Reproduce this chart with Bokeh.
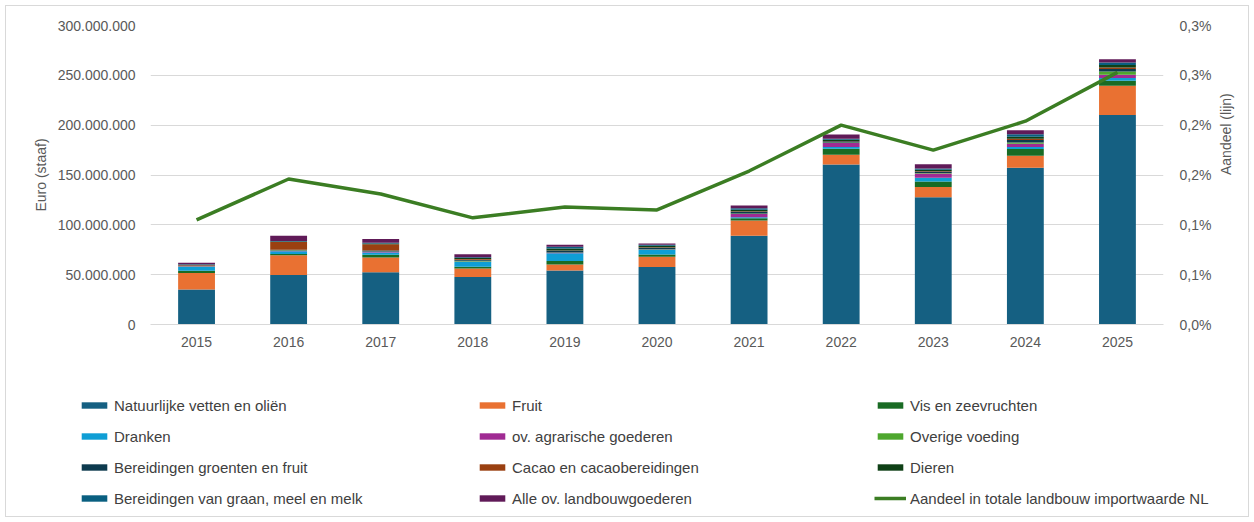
import math
from bokeh.plotting import figure
from bokeh.models import (ColumnDataSource, FactorRange, Range1d, LinearAxis, FixedTicker,
                          CustomJSTickFormatter, Legend, LegendItem)
from bokeh.embed import file_html
from bokeh.resources import INLINE

# ---- data (values in million euro, share in percent) ----
years = ["2015", "2016", "2017", "2018", "2019", "2020", "2021", "2022", "2023", "2024", "2025"]
natuurlijke_vetten = [35.0, 49.6, 52.3, 47.6, 54.3, 57.6, 89.0, 160.6, 127.6, 157.3, 210.3]
fruit = [16.6, 20.0, 15.0, 8.7, 6.0, 10.4, 15.3, 9.7, 10.4, 12.0, 29.3]
vis = [2.4, 1.2, 2.7, 1.7, 3.3, 2.3, 2.3, 6.0, 5.6, 6.7, 5.0]
dranken = [4.0, 2.7, 2.3, 5.0, 8.0, 4.7, 1.0, 1.7, 3.7, 2.0, 2.7]
ov_agrarisch = [0.4, 0.5, 0.7, 0.3, 0.3, 0.3, 3.2, 4.0, 4.3, 3.4, 3.3]
overige_voeding = [0.3, 0.5, 0.3, 0.7, 0.3, 0.3, 0.5, 0.6, 0.5, 1.2, 3.3]
ber_groenten = [0.6, 0.5, 1.0, 1.0, 1.8, 1.5, 1.8, 1.2, 1.3, 2.4, 2.5]
cacao = [0.3, 7.7, 6.3, 0.7, 0.3, 0.3, 0.5, 0.4, 0.5, 1.3, 1.5]
dieren = [0.3, 0.5, 0.7, 1.0, 2.0, 1.5, 1.5, 1.2, 1.3, 2.0, 2.5]
ber_graan = [0.6, 0.5, 0.6, 0.7, 1.8, 1.2, 1.5, 1.0, 1.3, 2.7, 2.5]
alle_ov = [1.5, 5.3, 4.0, 3.0, 1.8, 1.2, 2.7, 4.3, 4.3, 4.0, 3.3]
aandeel = [0.105, 0.146, 0.131, 0.107, 0.118, 0.115, 0.154, 0.200, 0.175, 0.204, 0.253]

series_names = ["Natuurlijke vetten en oliën", "Fruit", "Vis en zeevruchten", "Dranken",
                "ov. agrarische goederen", "Overige voeding", "Bereidingen groenten en fruit",
                "Cacao en cacaobereidingen", "Dieren", "Bereidingen van graan, meel en melk",
                "Alle ov. landbouwgoederen"]
series_values = [natuurlijke_vetten, fruit, vis, dranken, ov_agrarisch, overige_voeding,
                 ber_groenten, cacao, dieren, ber_graan, alle_ov]
colors = ["#156082", "#E97132", "#196B24", "#0F9ED5", "#A02B93", "#4EA72E",
          "#0D3A4E", "#9A4011", "#0F4016", "#095F80", "#601A58"]
line_name = "Aandeel in totale landbouw importwaarde NL"
line_color = "#3B7D23"

keys = [f"s{i}" for i in range(len(series_names))]
data = {"year": years, "aandeel": aandeel}
for k, vals in zip(keys, series_values):
    data[k] = [v * 1e6 for v in vals]
source = ColumnDataSource(data)

FONT = "Liberation Sans"
TXT = "#595959"
GRID = "#D9D9D9"
LINE_IMG = "linear-gradient(#D9D9D9, #D9D9D9)"

# ---------------- main chart ----------------
p = figure(x_range=FactorRange(*years), y_range=Range1d(0, 300e6),
           width=1254, height=380, output_backend="svg", toolbar_location=None,
           min_border_left=150, min_border_right=91, min_border_top=25, min_border_bottom=56)
p.outline_line_color = None
p.border_fill_color = None
p.background_fill_color = None
p.styles = {
    "background-image": ", ".join([LINE_IMG] * 3),
    "background-size": "1px 100%, 1px 100%, calc(100% - 10px) 1px",
    "background-position": "5px 5px, 1248px 5px, 5px 5px",
    "background-repeat": "no-repeat",
}

bars = p.vbar_stack(keys, x="year", width=0.4, color=colors, source=source, line_color=None)

p.extra_y_ranges = {"pct": Range1d(0, 0.3)}
ln = p.line(x="year", y="aandeel", source=source, y_range_name="pct",
            line_color=line_color, line_width=3.5)

ya = p.yaxis[0]
ya.ticker = FixedTicker(ticks=[0, 50e6, 100e6, 150e6, 200e6, 250e6, 300e6])
ya.formatter = CustomJSTickFormatter(code="""
return Math.round(tick).toString().replace(/\\B(?=(\\d{3})+(?!\\d))/g, ".");
""")
ya.axis_label = "Euro (staaf)"
ya.major_label_standoff = 15
ya.axis_label_standoff = 6

ra = LinearAxis(y_range_name="pct",
                ticker=FixedTicker(ticks=[0, 0.05, 0.1, 0.15, 0.2, 0.25, 0.3]),
                formatter=CustomJSTickFormatter(code="""
const v = Math.round(tick * 10 + 1e-9) / 10;
return v.toFixed(1).replace('.', ',') + '%';
"""), axis_label="Aandeel (lijn)")
ra.major_label_standoff = 16
ra.axis_label_standoff = 12
try:
    ra.axis_label_orientation = math.pi / 2
except Exception:
    pass
p.add_layout(ra, "right")

for ax in [ya, ra, p.xaxis[0]]:
    ax.major_label_text_font = FONT
    ax.major_label_text_font_size = "14px"
    ax.major_label_text_color = TXT
    ax.axis_label_text_font = FONT
    ax.axis_label_text_font_size = "14px"
    ax.axis_label_text_font_style = "normal"
    ax.axis_label_text_color = TXT
    ax.major_tick_line_color = None
    ax.minor_tick_line_color = None
    ax.major_tick_out = 0
    ax.major_tick_in = 0
    ax.axis_line_color = None

p.xaxis[0].axis_line_color = GRID
p.xaxis[0].major_label_standoff = 12
p.xgrid.visible = False
p.ygrid.grid_line_color = GRID
p.ygrid.ticker = ya.ticker

# ---------------- legend panel (separate root, same series) ----------------
lf = figure(width=1254, height=142, x_range=FactorRange(*years), y_range=Range1d(-2, -1),
            output_backend="svg", toolbar_location=None,
            x_axis_location=None, y_axis_location=None,
            min_border_left=0, min_border_right=0, min_border_top=0, min_border_bottom=0)
lf.outline_line_color = None
lf.border_fill_color = None
lf.background_fill_color = None
lf.xgrid.visible = False
lf.ygrid.visible = False
lf.styles = {
    "background-image": ", ".join([LINE_IMG] * 3),
    "background-size": "1px 137px, 1px 137px, calc(100% - 10px) 1px",
    "background-position": "5px 0px, 1248px 0px, 5px 136px",
    "background-repeat": "no-repeat",
}

lbars = lf.vbar_stack(keys, x="year", width=0.4, color=colors, source=source, line_color=None)
lline = lf.line(x="year", y="aandeel", source=source, line_color=line_color, line_width=3.5)
for r in list(lbars) + [lline]:
    r.visible = False

items = [LegendItem(label=n, renderers=[r]) for n, r in zip(series_names, lbars)]
items.append(LegendItem(label=line_name, renderers=[lline]))

legend = Legend(items=items, location=(78, 13.5), orientation="horizontal", ncols=3,
                glyph_width=32, glyph_height=8, label_standoff=4, label_width=352,
                label_height=21, spacing=10, padding=0, margin=0,
                border_line_color=None, background_fill_alpha=0,
                inactive_fill_alpha=0,
                label_text_font=FONT, label_text_font_size="15px", label_text_color="#404040")
lf.add_layout(legend)

open("out.html", "w").write(file_html([p, lf], INLINE))
